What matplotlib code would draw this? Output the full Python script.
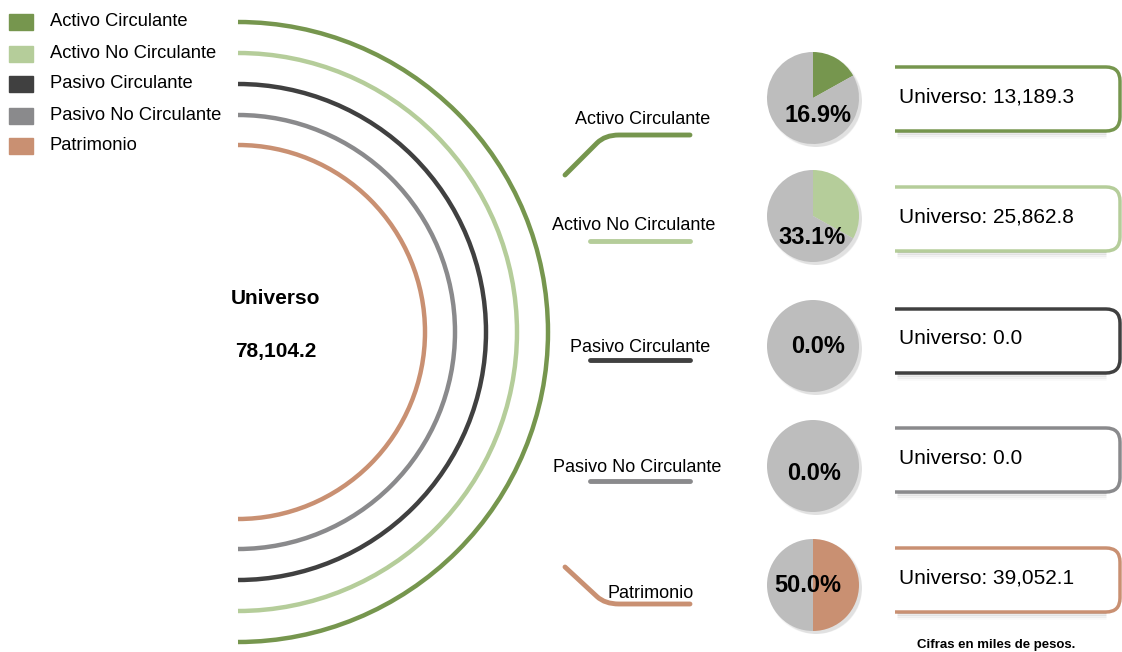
"""Balance general: arcos por rubro, pastel de participación y recuadros de universo."""

import matplotlib

matplotlib.use("Agg")
import matplotlib.pyplot as plt
from matplotlib.patches import Arc, Circle, PathPatch, Rectangle
from matplotlib.path import Path

plt.rcParams["font.family"] = ["Liberation Sans", "DejaVu Sans"]

categories = [
    "Activo Circulante",
    "Activo No Circulante",
    "Pasivo Circulante",
    "Pasivo No Circulante",
    "Patrimonio",
]
colors = ["#76964e", "#b5cd9a", "#404040", "#8a8a8c", "#c99072"]
percentages = [16.9, 33.1, 0.0, 0.0, 50.0]
universo = [13189.3, 25862.8, 0.0, 0.0, 39052.1]
total_universo = 78104.2
arc_radii = [310, 279, 248, 217, 187]

W, H = 1122, 652
fig = plt.figure(figsize=(W / 100, H / 100), dpi=100)
ax = fig.add_axes([0, 0, 1, 1])
ax.set_xlim(0, W)
ax.set_ylim(H, 0)
ax.axis("off")

# leyenda
legend_y = [22, 54, 84, 116, 146]
for name, color, y in zip(categories, colors, legend_y):
    ax.add_patch(Rectangle((9, y - 8), 24, 16, color=color))
    ax.text(50, y, name, fontsize=13.2, va="center", ha="left")

# arcos concéntricos
cx, cy = 238, 332
for r, color in zip(arc_radii, colors):
    ax.add_patch(Arc((cx, cy), 2 * r, 2 * r, theta1=-90, theta2=90,
                     color=color, lw=3.2))
ax.text(276, 299, "Universo", fontsize=15, fontweight="bold", ha="center", va="center")
ax.text(276, 351, f"{total_universo:,.1f}", fontsize=15, fontweight="bold",
        ha="center", va="center")


def connector(points, color):
    codes = [Path.MOVETO] + [Path.LINETO] * (len(points) - 1)
    ax.add_patch(PathPatch(Path(points, codes), fill=False, color=color, lw=3.5,
                           capstyle="round", joinstyle="round"))


def curved_connector(start, corner, end, color):
    # recta inclinada, esquina suave y tramo horizontal
    sx, sy = start
    kx, ky = corner
    t = 0.8
    p1 = (sx + (kx - sx) * t, sy + (ky - sy) * t)
    p2 = (kx + 14, ky)
    verts = [start, p1, corner, p2, end]
    codes = [Path.MOVETO, Path.LINETO, Path.CURVE3, Path.CURVE3, Path.LINETO]
    ax.add_patch(PathPatch(Path(verts, codes), fill=False, color=color, lw=3.5,
                           capstyle="round", joinstyle="round"))


label_pos = [(643, 119), (634, 225), (640, 348), (637, 467), (651, 593)]
line_y = [135, 241, 360, 481, 604]

curved_connector((565, 175), (605, line_y[0]), (690, line_y[0]), colors[0])
connector([(590, line_y[1]), (690, line_y[1])], colors[1])
connector([(590, line_y[2]), (690, line_y[2])], colors[2])
connector([(590, line_y[3]), (690, line_y[3])], colors[3])
curved_connector((565, 567), (605, line_y[4]), (690, line_y[4]), colors[4])

for name, (lx, ly) in zip(categories, label_pos):
    ax.text(lx, ly, name, fontsize=13, ha="center", va="center")

# pasteles
pie_x, pie_r = 813, 46
pie_y = [98, 216, 346, 466, 585]
pct_pos = [(818, 116), (812, 238), (818, 346), (814, 473), (808, 585)]
for pct, color, y, (px, py) in zip(percentages, colors, pie_y, pct_pos):
    for k in range(3):
        ax.add_patch(Circle((pie_x + 2 + k, y + 2 + k), pie_r + 1 - k, color="#000000",
                            alpha=0.04, lw=0))
    pax = fig.add_axes([(pie_x - pie_r) / W, 1 - (y + pie_r) / H,
                        2 * pie_r / W, 2 * pie_r / H])
    pax.pie([pct, 100 - pct], colors=[color, "#bdbdbd"], startangle=90,
            counterclock=False, radius=1.0)
    pax.set_xlim(-1, 1)
    pax.set_ylim(-1, 1)
    pax.axis("off")
    fig.text(px / W, 1 - py / H, f"{pct:.1f}%", fontsize=17, fontweight="bold",
             ha="center", va="center")

# recuadros de universo
box_x0, box_x1, box_h, rad = 895, 1120, 64, 14
box_y = [99, 219, 341, 460, 580]
for value, color, y in zip(universo, colors, box_y):
    top = y - box_h / 2
    bot = y + box_h / 2
    for off, alpha in [(2, 0.08), (4, 0.05), (6, 0.025)]:
        ax.plot([box_x0 + 2, box_x1 - rad], [bot + off, bot + off], color="#000000",
                alpha=alpha, lw=2, solid_capstyle="butt")
    verts = [(box_x0, top), (box_x1 - rad, top), (box_x1, top), (box_x1, top + rad),
             (box_x1, bot - rad), (box_x1, bot), (box_x1 - rad, bot), (box_x0, bot)]
    codes = [Path.MOVETO, Path.LINETO, Path.CURVE3, Path.CURVE3,
             Path.LINETO, Path.CURVE3, Path.CURVE3, Path.LINETO]
    ax.add_patch(PathPatch(Path(verts, codes), fill=False, color=color, lw=2.5,
                           capstyle="butt"))
    ax.text(899, y - 2, f"Universo: {value:,.1f}", fontsize=15,
            ha="left", va="center")

ax.text(996, 645, "Cifras en miles de pesos.", fontsize=9.5, fontweight="bold",
        ha="center", va="center")

fig.savefig("out.png", dpi=100)
